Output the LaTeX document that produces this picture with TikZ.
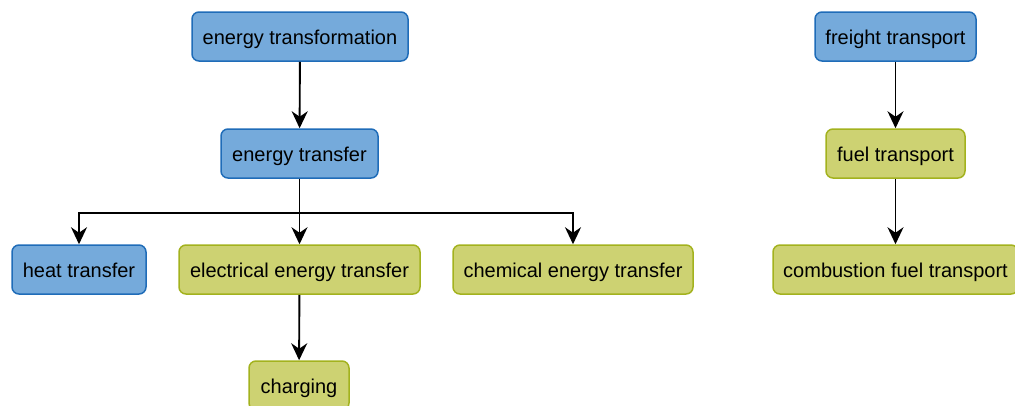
\documentclass[tikz,border=0pt]{standalone}
\usepackage{fontspec}
\setmainfont{Liberation Sans}
\usetikzlibrary{arrows.meta}
\definecolor{bluefill}{HTML}{75AADB}
\definecolor{blueline}{HTML}{1F6CB8}
\definecolor{greenfill}{HTML}{CDD272}
\definecolor{greenline}{HTML}{A3B21E}
\begin{document}
\begin{tikzpicture}[x=1pt,y=-1pt,
  box/.style={rounded corners=7pt, line width=1.5pt, minimum height=49pt,
    inner sep=0pt, text height=19pt, text depth=4pt,
    font=\fontsize{20}{24}\selectfont},
  bluebox/.style={box, draw=blueline, fill=bluefill},
  greenbox/.style={box, draw=greenline, fill=greenfill},
  arr/.style={line width=1.9pt, -{Stealth[length=17pt, width=16pt, inset=5.5pt]}}]
\useasboundingbox (0,0) rectangle (1015,405);
% left tree
\node[bluebox, minimum width=216pt] (et) at (300,36.5) {energy transformation};
\node[bluebox, minimum width=157pt] (tr) at (299.5,153.5) {energy transfer};
\node[bluebox, minimum width=134pt] (ht) at (79,269.5) {heat transfer};
\node[greenbox, minimum width=241pt] (el) at (299.5,269.5) {electrical energy transfer};
\node[greenbox, minimum width=240pt] (ch) at (573,269.5) {chemical energy transfer};
\node[greenbox, minimum width=100pt] (cg) at (299,385.5) {charging};
% right chain
\node[bluebox, minimum width=161pt] (fr) at (895.5,36.5) {freight transport};
\node[greenbox, minimum width=139pt] (fu) at (895.5,153.5) {fuel transport};
\node[greenbox, minimum width=245pt] (cb) at (895.5,269.5) {combustion fuel transport};
% connectors
\draw[arr] (et) -- (tr);
\draw[arr] (tr.south) -- (el.north);
\draw[arr] (tr.south) -- ++(0,34) -| (ht.north);
\draw[arr] (tr.south) -- ++(0,34) -| (ch.north);
\draw[arr] (el) -- (cg);
\draw[arr] (fr) -- (fu);
\draw[arr] (fu) -- (cb);
\end{tikzpicture}
\end{document}
